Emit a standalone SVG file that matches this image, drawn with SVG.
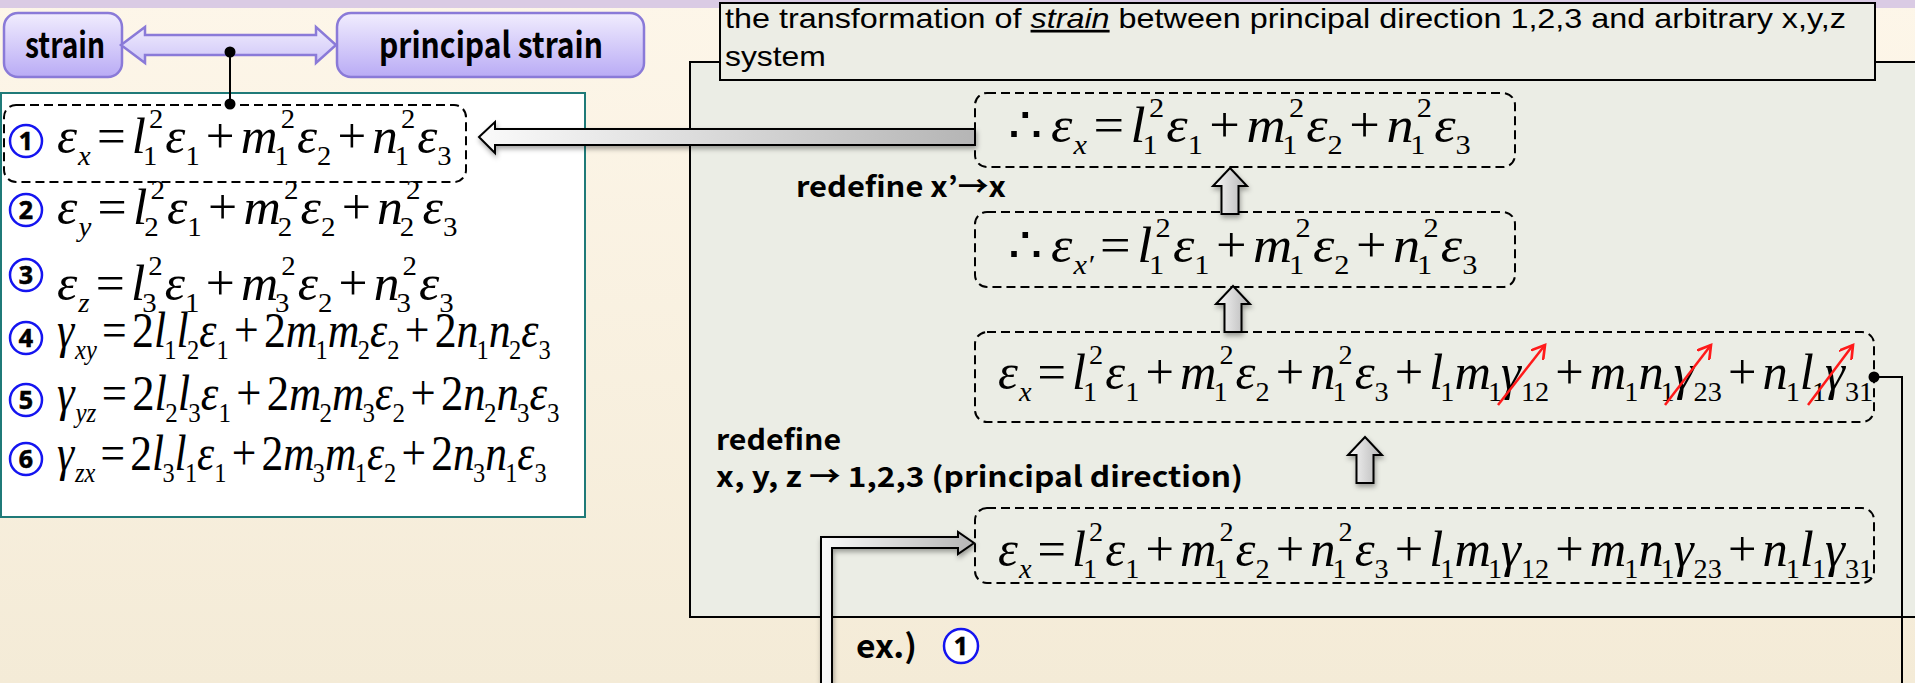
<svg xmlns="http://www.w3.org/2000/svg" width="1915" height="683" viewBox="0 0 1915 683">
<defs>
<linearGradient id="bg" x1="0" y1="0" x2="0" y2="1"><stop offset="0" stop-color="#fdf6e9"/><stop offset="1" stop-color="#f4ebd7"/></linearGradient>
<linearGradient id="purp" x1="0" y1="0" x2="0" y2="1"><stop offset="0" stop-color="#f1edfe"/><stop offset="1" stop-color="#b9abf5"/></linearGradient>
<linearGradient id="purpArrow" x1="0" y1="0" x2="0" y2="1"><stop offset="0" stop-color="#efebfd"/><stop offset="1" stop-color="#cfc6f8"/></linearGradient>
<linearGradient id="grayH" x1="0" y1="0" x2="1" y2="0"><stop offset="0" stop-color="#f4f4f4"/><stop offset="1" stop-color="#bdbdbd"/></linearGradient>
<linearGradient id="grayV" x1="0" y1="0" x2="1" y2="0"><stop offset="0" stop-color="#fafafa"/><stop offset="1" stop-color="#b5b5b5"/></linearGradient>
<filter id="sh" x="-20%" y="-20%" width="150%" height="160%"><feDropShadow dx="1" dy="3" stdDeviation="2.5" flood-color="#000" flood-opacity="0.35"/></filter>
<marker id="redHead" viewBox="0 0 12 12" refX="10" refY="6" markerWidth="16" markerHeight="16" markerUnits="userSpaceOnUse" orient="auto"><polyline points="0,0 10,6 0,12" fill="none" stroke="#ff1a1a" stroke-width="2"/></marker>
<path id="upArrow" d="M0,0 L17,18 L8.5,18 L8.5,46 L-8.5,46 L-8.5,18 L-17,18 Z"/>
</defs>
<style>
.eq{font-size:50px;fill:#000}
.i{font-style:italic}
.s{font-size:28px}
.lbl{font-weight:bold;fill:#000}
.circ{fill:#fff;stroke:#1414f0;stroke-width:2.5}
.cnum{font-weight:bold;font-size:25px;fill:#000;stroke:#000;stroke-width:0.6;text-anchor:middle}
.dash{fill:none;stroke:#000;stroke-width:2;stroke-dasharray:9 5}
.line{fill:none;stroke:#000;stroke-width:2}
.blk{fill:url(#grayV);stroke:#000;stroke-width:2;filter:url(#sh)}
.red{stroke:#ff1a1a;stroke-width:2.5;fill:none;marker-end:url(#redHead)}
</style>

<rect x="0" y="0" width="1915" height="683" fill="url(#bg)"/>
<rect x="0" y="0" width="1915" height="8" fill="#dacbe4"/>

<g id="right-panel">
<rect x="690" y="62" width="1300" height="555" fill="#ebede5" stroke="#000" stroke-width="2"/>
</g>

<g id="title" font-family="Liberation Sans, Arial, sans-serif" font-size="27">
<rect x="720" y="3" width="1155" height="77" fill="#ecede5" stroke="#000" stroke-width="2"/>
<text transform="translate(725,28) scale(1.198,1)">the transformation of <tspan font-style="italic" text-decoration="underline">strain</tspan> between principal direction 1,2,3 and arbitrary x,y,z</text>
<text transform="translate(725,66) scale(1.18,1)">system</text>
</g>

<g id="strain" font-family="Noto Sans CJK KR, Noto Sans, sans-serif">
<rect x="4" y="13" width="118" height="64" rx="14" fill="url(#purp)" stroke="#8a7ad8" stroke-width="2.5"/>
<text class="lbl" x="25" y="58" font-size="35" textLength="80" lengthAdjust="spacingAndGlyphs">strain</text>
</g>

<g id="principal-strain" font-family="Noto Sans CJK KR, Noto Sans, sans-serif">
<rect x="337" y="13" width="307" height="64" rx="14" fill="url(#purp)" stroke="#8a7ad8" stroke-width="2.5"/>
<text class="lbl" x="379" y="58" font-size="35" textLength="224" lengthAdjust="spacingAndGlyphs">principal strain</text>
</g>

<g id="left-panel">
<rect x="1" y="93" width="584" height="424" fill="#fff" stroke="#1f7a78" stroke-width="2"/>
<g id="eq1-box"><rect class="dash" x="4" y="105" width="462" height="77" rx="12"/></g>
<g font-family="Noto Sans, Liberation Sans, sans-serif">
<circle class="circ" cx="26" cy="141" r="16"/><text class="cnum" x="26" y="150">1</text>
<circle class="circ" cx="26" cy="210" r="16"/><text class="cnum" x="26" y="219">2</text>
<circle class="circ" cx="26" cy="275" r="16"/><text class="cnum" x="26" y="284">3</text>
<circle class="circ" cx="26" cy="338" r="16"/><text class="cnum" x="26" y="347">4</text>
<circle class="circ" cx="26" cy="400" r="16"/><text class="cnum" x="26" y="409">5</text>
<circle class="circ" cx="26" cy="459" r="16"/><text class="cnum" x="26" y="468">6</text>
</g>
<g font-family="Liberation Serif, Times New Roman, serif">
<text class="eq" transform="translate(57,153) scale(1.02,1)"><tspan class="i">ε</tspan><tspan class="s i" dx="1" dy="12">x</tspan><tspan dx="6" dy="-12">=</tspan><tspan class="i" dx="6">l</tspan><tspan class="s" dx="-3" dy="12">1</tspan><tspan class="s" dx="-8" dy="-37">2</tspan><tspan class="i" dx="2" dy="25">ε</tspan><tspan class="s" dy="12">1</tspan><tspan dx="6" dy="-12">+</tspan><tspan class="i" dx="6">m</tspan><tspan class="s" dx="-3" dy="12">1</tspan><tspan class="s" dx="-8" dy="-37">2</tspan><tspan class="i" dx="2" dy="25">ε</tspan><tspan class="s" dy="12">2</tspan><tspan dx="6" dy="-12">+</tspan><tspan class="i" dx="6">n</tspan><tspan class="s" dx="-3" dy="12">1</tspan><tspan class="s" dx="-8" dy="-37">2</tspan><tspan class="i" dx="2" dy="25">ε</tspan><tspan class="s" dy="12">3</tspan></text>

<text class="eq" transform="translate(57,224) scale(1.035,1)"><tspan class="i">ε</tspan><tspan class="s i" dx="1" dy="12">y</tspan><tspan dx="6" dy="-12">=</tspan><tspan class="i" dx="6">l</tspan><tspan class="s" dx="-3" dy="12">2</tspan><tspan class="s" dx="-8" dy="-37">2</tspan><tspan class="i" dx="2" dy="25">ε</tspan><tspan class="s" dy="12">1</tspan><tspan dx="6" dy="-12">+</tspan><tspan class="i" dx="6">m</tspan><tspan class="s" dx="-3" dy="12">2</tspan><tspan class="s" dx="-8" dy="-37">2</tspan><tspan class="i" dx="2" dy="25">ε</tspan><tspan class="s" dy="12">2</tspan><tspan dx="6" dy="-12">+</tspan><tspan class="i" dx="6">n</tspan><tspan class="s" dx="-3" dy="12">2</tspan><tspan class="s" dx="-8" dy="-37">2</tspan><tspan class="i" dx="2" dy="25">ε</tspan><tspan class="s" dy="12">3</tspan></text>

<text class="eq" transform="translate(57,300) scale(1.03,1)"><tspan class="i">ε</tspan><tspan class="s i" dx="1" dy="12">z</tspan><tspan dx="6" dy="-12">=</tspan><tspan class="i" dx="6">l</tspan><tspan class="s" dx="-3" dy="12">3</tspan><tspan class="s" dx="-8" dy="-37">2</tspan><tspan class="i" dx="2" dy="25">ε</tspan><tspan class="s" dy="12">1</tspan><tspan dx="6" dy="-12">+</tspan><tspan class="i" dx="6">m</tspan><tspan class="s" dx="-3" dy="12">3</tspan><tspan class="s" dx="-8" dy="-37">2</tspan><tspan class="i" dx="2" dy="25">ε</tspan><tspan class="s" dy="12">2</tspan><tspan dx="6" dy="-12">+</tspan><tspan class="i" dx="6">n</tspan><tspan class="s" dx="-3" dy="12">3</tspan><tspan class="s" dx="-8" dy="-37">2</tspan><tspan class="i" dx="2" dy="25">ε</tspan><tspan class="s" dy="12">3</tspan></text>

<text class="eq" transform="translate(57,347) scale(0.875,1)"><tspan class="i">γ</tspan><tspan class="s i" dx="1" dy="12">xy</tspan><tspan dx="6" dy="-12">=</tspan><tspan dx="6">2</tspan><tspan class="i">l</tspan><tspan class="s" dx="-2" dy="12">1</tspan><tspan class="i" dy="-12">l</tspan><tspan class="s" dx="-2" dy="12">2</tspan><tspan class="i" dy="-12">ε</tspan><tspan class="s" dy="12">1</tspan><tspan dx="6" dy="-12">+</tspan><tspan dx="6">2</tspan><tspan class="i">m</tspan><tspan class="s" dx="-2" dy="12">1</tspan><tspan class="i" dy="-12">m</tspan><tspan class="s" dx="-2" dy="12">2</tspan><tspan class="i" dy="-12">ε</tspan><tspan class="s" dy="12">2</tspan><tspan dx="6" dy="-12">+</tspan><tspan dx="6">2</tspan><tspan class="i">n</tspan><tspan class="s" dx="-2" dy="12">1</tspan><tspan class="i" dy="-12">n</tspan><tspan class="s" dx="-2" dy="12">2</tspan><tspan class="i" dy="-12">ε</tspan><tspan class="s" dy="12">3</tspan></text>

<text class="eq" transform="translate(57,410) scale(0.893,1)"><tspan class="i">γ</tspan><tspan class="s i" dx="1" dy="12">yz</tspan><tspan dx="6" dy="-12">=</tspan><tspan dx="6">2</tspan><tspan class="i">l</tspan><tspan class="s" dx="-2" dy="12">2</tspan><tspan class="i" dy="-12">l</tspan><tspan class="s" dx="-2" dy="12">3</tspan><tspan class="i" dy="-12">ε</tspan><tspan class="s" dy="12">1</tspan><tspan dx="6" dy="-12">+</tspan><tspan dx="6">2</tspan><tspan class="i">m</tspan><tspan class="s" dx="-2" dy="12">2</tspan><tspan class="i" dy="-12">m</tspan><tspan class="s" dx="-2" dy="12">3</tspan><tspan class="i" dy="-12">ε</tspan><tspan class="s" dy="12">2</tspan><tspan dx="6" dy="-12">+</tspan><tspan dx="6">2</tspan><tspan class="i">n</tspan><tspan class="s" dx="-2" dy="12">2</tspan><tspan class="i" dy="-12">n</tspan><tspan class="s" dx="-2" dy="12">3</tspan><tspan class="i" dy="-12">ε</tspan><tspan class="s" dy="12">3</tspan></text>

<text class="eq" transform="translate(57,470) scale(0.87,1)"><tspan class="i">γ</tspan><tspan class="s i" dx="1" dy="12">zx</tspan><tspan dx="6" dy="-12">=</tspan><tspan dx="6">2</tspan><tspan class="i">l</tspan><tspan class="s" dx="-2" dy="12">3</tspan><tspan class="i" dy="-12">l</tspan><tspan class="s" dx="-2" dy="12">1</tspan><tspan class="i" dy="-12">ε</tspan><tspan class="s" dy="12">1</tspan><tspan dx="6" dy="-12">+</tspan><tspan dx="6">2</tspan><tspan class="i">m</tspan><tspan class="s" dx="-2" dy="12">3</tspan><tspan class="i" dy="-12">m</tspan><tspan class="s" dx="-2" dy="12">1</tspan><tspan class="i" dy="-12">ε</tspan><tspan class="s" dy="12">2</tspan><tspan dx="6" dy="-12">+</tspan><tspan dx="6">2</tspan><tspan class="i">n</tspan><tspan class="s" dx="-2" dy="12">3</tspan><tspan class="i" dy="-12">n</tspan><tspan class="s" dx="-2" dy="12">1</tspan><tspan class="i" dy="-12">ε</tspan><tspan class="s" dy="12">3</tspan></text>
</g>
</g>

<g font-family="Liberation Serif, Times New Roman, serif">
<g id="boxA">
<rect class="dash" x="975" y="93" width="540" height="74" rx="12"/>
<text class="eq" transform="translate(1008,142) scale(1.085,1)"><tspan>∴</tspan><tspan class="i" dx="8">ε</tspan><tspan class="s i" dx="1" dy="12">x</tspan><tspan dx="6" dy="-12">=</tspan><tspan class="i" dx="6">l</tspan><tspan class="s" dx="-3" dy="12">1</tspan><tspan class="s" dx="-8" dy="-37">2</tspan><tspan class="i" dx="2" dy="25">ε</tspan><tspan class="s" dy="12">1</tspan><tspan dx="6" dy="-12">+</tspan><tspan class="i" dx="6">m</tspan><tspan class="s" dx="-3" dy="12">1</tspan><tspan class="s" dx="-8" dy="-37">2</tspan><tspan class="i" dx="2" dy="25">ε</tspan><tspan class="s" dy="12">2</tspan><tspan dx="6" dy="-12">+</tspan><tspan class="i" dx="6">n</tspan><tspan class="s" dx="-3" dy="12">1</tspan><tspan class="s" dx="-8" dy="-37">2</tspan><tspan class="i" dx="2" dy="25">ε</tspan><tspan class="s" dy="12">3</tspan></text>
</g>

<g id="boxB">
<rect class="dash" x="975" y="212" width="540" height="75" rx="12"/>
<text class="eq" transform="translate(1008,262) scale(1.085,1)"><tspan>∴</tspan><tspan class="i" dx="8">ε</tspan><tspan class="s i" dx="1" dy="12">x′</tspan><tspan dx="6" dy="-12">=</tspan><tspan class="i" dx="6">l</tspan><tspan class="s" dx="-3" dy="12">1</tspan><tspan class="s" dx="-8" dy="-37">2</tspan><tspan class="i" dx="2" dy="25">ε</tspan><tspan class="s" dy="12">1</tspan><tspan dx="6" dy="-12">+</tspan><tspan class="i" dx="6">m</tspan><tspan class="s" dx="-3" dy="12">1</tspan><tspan class="s" dx="-8" dy="-37">2</tspan><tspan class="i" dx="2" dy="25">ε</tspan><tspan class="s" dy="12">2</tspan><tspan dx="6" dy="-12">+</tspan><tspan class="i" dx="6">n</tspan><tspan class="s" dx="-3" dy="12">1</tspan><tspan class="s" dx="-8" dy="-37">2</tspan><tspan class="i" dx="2" dy="25">ε</tspan><tspan class="s" dy="12">3</tspan></text>
</g>

<g id="boxC">
<rect class="dash" x="975" y="332" width="899" height="90" rx="12"/>
<text class="eq" transform="translate(998,389) scale(1.01,1)"><tspan class="i">ε</tspan><tspan class="s i" dx="1" dy="12">x</tspan><tspan dx="6" dy="-12">=</tspan><tspan class="i" dx="6">l</tspan><tspan class="s" dx="-3" dy="12">1</tspan><tspan class="s" dx="-8" dy="-37">2</tspan><tspan class="i" dx="2" dy="25">ε</tspan><tspan class="s" dy="12">1</tspan><tspan dx="6" dy="-12">+</tspan><tspan class="i" dx="6">m</tspan><tspan class="s" dx="-3" dy="12">1</tspan><tspan class="s" dx="-8" dy="-37">2</tspan><tspan class="i" dx="2" dy="25">ε</tspan><tspan class="s" dy="12">2</tspan><tspan dx="6" dy="-12">+</tspan><tspan class="i" dx="6">n</tspan><tspan class="s" dx="-3" dy="12">1</tspan><tspan class="s" dx="-8" dy="-37">2</tspan><tspan class="i" dx="2" dy="25">ε</tspan><tspan class="s" dy="12">3</tspan><tspan dx="6" dy="-12">+</tspan><tspan class="i" dx="6">l</tspan><tspan class="s" dx="-3" dy="12">1</tspan><tspan class="i" dy="-12">m</tspan><tspan class="s" dx="-3" dy="12">1</tspan><tspan class="i" dx="-1" dy="-12">γ</tspan><tspan class="s" dy="12">12</tspan><tspan dx="6" dy="-12">+</tspan><tspan class="i" dx="6">m</tspan><tspan class="s" dx="-2" dy="12">1</tspan><tspan class="i" dy="-12">n</tspan><tspan class="s" dx="-3" dy="12">1</tspan><tspan class="i" dx="-1" dy="-12">γ</tspan><tspan class="s" dy="12">23</tspan><tspan dx="6" dy="-12">+</tspan><tspan class="i" dx="6">n</tspan><tspan class="s" dx="-2" dy="12">1</tspan><tspan class="i" dy="-12">l</tspan><tspan class="s" dx="-2" dy="12">1</tspan><tspan class="i" dx="-1" dy="-12">γ</tspan><tspan class="s" dy="12">31</tspan></text>
<line class="red" x1="1498" y1="405" x2="1545" y2="345"/>
<line class="red" x1="1665" y1="405" x2="1711" y2="345"/>
<line class="red" x1="1808" y1="405" x2="1853" y2="345"/>
</g>

<g id="boxD">
<rect class="dash" x="975" y="508" width="899" height="75" rx="12"/>
<text class="eq" transform="translate(998,566) scale(1.01,1)"><tspan class="i">ε</tspan><tspan class="s i" dx="1" dy="12">x</tspan><tspan dx="6" dy="-12">=</tspan><tspan class="i" dx="6">l</tspan><tspan class="s" dx="-3" dy="12">1</tspan><tspan class="s" dx="-8" dy="-37">2</tspan><tspan class="i" dx="2" dy="25">ε</tspan><tspan class="s" dy="12">1</tspan><tspan dx="6" dy="-12">+</tspan><tspan class="i" dx="6">m</tspan><tspan class="s" dx="-3" dy="12">1</tspan><tspan class="s" dx="-8" dy="-37">2</tspan><tspan class="i" dx="2" dy="25">ε</tspan><tspan class="s" dy="12">2</tspan><tspan dx="6" dy="-12">+</tspan><tspan class="i" dx="6">n</tspan><tspan class="s" dx="-3" dy="12">1</tspan><tspan class="s" dx="-8" dy="-37">2</tspan><tspan class="i" dx="2" dy="25">ε</tspan><tspan class="s" dy="12">3</tspan><tspan dx="6" dy="-12">+</tspan><tspan class="i" dx="6">l</tspan><tspan class="s" dx="-3" dy="12">1</tspan><tspan class="i" dy="-12">m</tspan><tspan class="s" dx="-3" dy="12">1</tspan><tspan class="i" dx="-1" dy="-12">γ</tspan><tspan class="s" dy="12">12</tspan><tspan dx="6" dy="-12">+</tspan><tspan class="i" dx="6">m</tspan><tspan class="s" dx="-2" dy="12">1</tspan><tspan class="i" dy="-12">n</tspan><tspan class="s" dx="-3" dy="12">1</tspan><tspan class="i" dx="-1" dy="-12">γ</tspan><tspan class="s" dy="12">23</tspan><tspan dx="6" dy="-12">+</tspan><tspan class="i" dx="6">n</tspan><tspan class="s" dx="-2" dy="12">1</tspan><tspan class="i" dy="-12">l</tspan><tspan class="s" dx="-2" dy="12">1</tspan><tspan class="i" dx="-1" dy="-12">γ</tspan><tspan class="s" dy="12">31</tspan></text>
</g>
</g>

<g id="labels" font-family="Noto Sans CJK KR, Noto Sans, sans-serif">
<text class="lbl" x="796" y="197" font-size="28" textLength="210" lengthAdjust="spacingAndGlyphs">redefine x’→x</text>
<text class="lbl" x="716" y="450" font-size="28" textLength="125" lengthAdjust="spacingAndGlyphs">redefine</text>
<text class="lbl" x="716" y="487" font-size="28" textLength="527" lengthAdjust="spacingAndGlyphs">x, y, z → 1,2,3 (principal direction)</text>
<text class="lbl" x="856" y="658" font-size="32" textLength="61" lengthAdjust="spacingAndGlyphs">ex.)</text>
</g>
<g id="ex-circle" font-family="Noto Sans, Liberation Sans, sans-serif">
<circle class="circ" cx="961" cy="646" r="17"/><text class="cnum" x="961" y="655">1</text>
</g>

<g id="connectors">
<path d="M121,45 L145,27 L145,35 L316,35 L316,27 L336,45 L316,63 L316,55 L145,55 L145,63 Z" fill="url(#purpArrow)" stroke="#8a7ad8" stroke-width="2.5"/>
<line class="line" x1="230" y1="52" x2="230" y2="104"/>
<circle cx="230" cy="52" r="5.5" fill="#000"/>
<circle cx="230" cy="104" r="5.5" fill="#000"/>
<path class="blk" d="M479,137 L495,122 L495,129 L975,129 L975,145 L495,145 L495,153 Z" fill="url(#grayH)"/>
<use href="#upArrow" class="blk" transform="translate(1230,168)"/>
<use href="#upArrow" class="blk" transform="translate(1233,286)"/>
<use href="#upArrow" class="blk" transform="translate(1365,437)"/>
<path class="blk" d="M821,690 L821,537 L958,537 L958,532 L974,543 L958,554 L958,548 L832,548 L832,690 Z"/>
<polyline class="line" points="1874,377 1902,377 1902,690"/>
<circle cx="1874" cy="377" r="5.5" fill="#000"/>
</g>
</svg>
